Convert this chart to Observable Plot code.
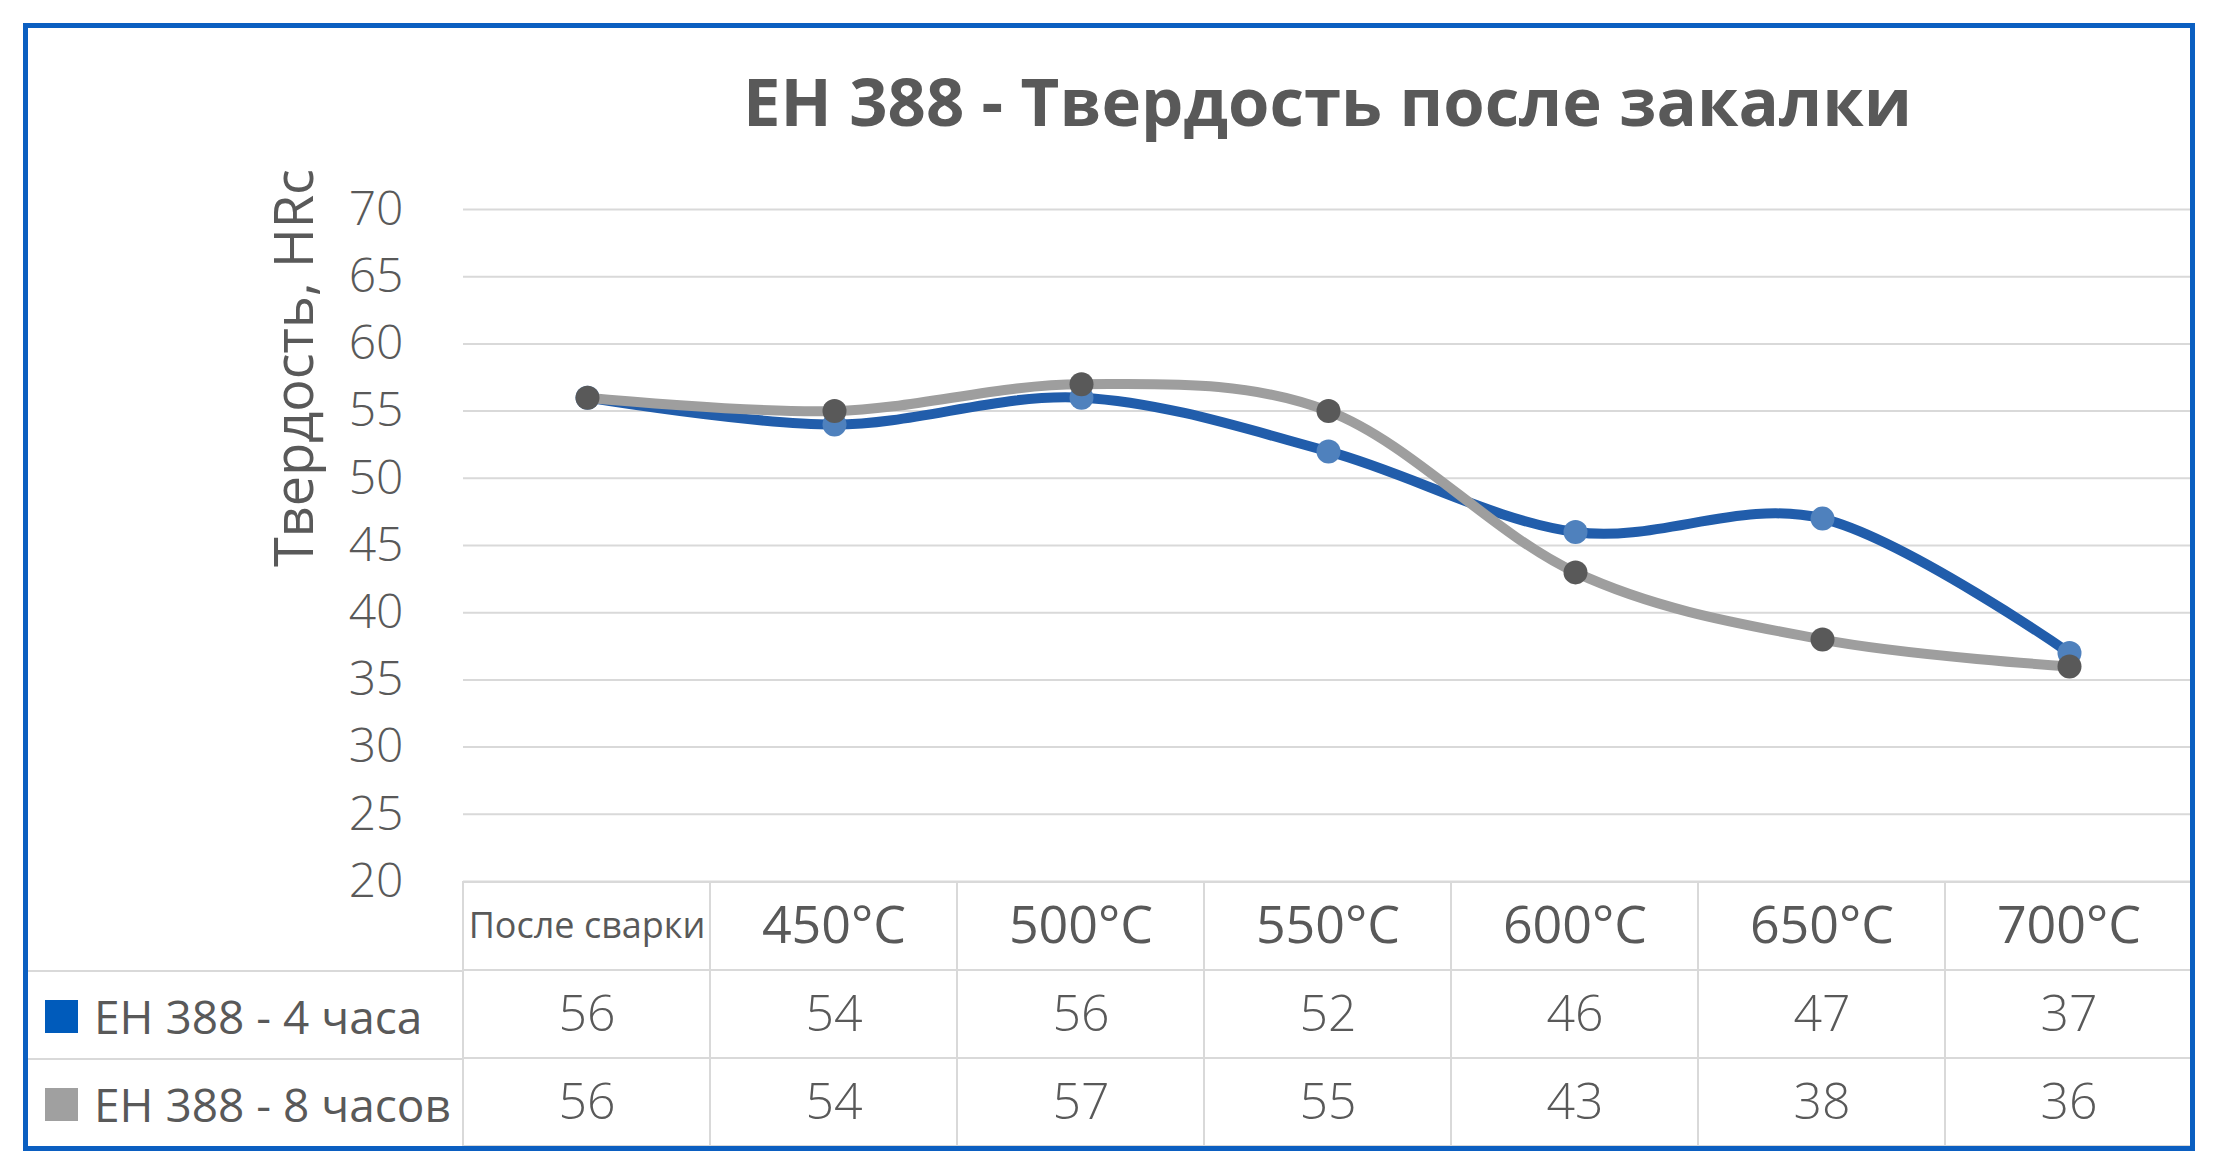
<!DOCTYPE html>
<html><head><meta charset="utf-8">
<script src="https://cdn.jsdelivr.net/npm/d3@7"></script>
<script src="https://cdn.jsdelivr.net/npm/@observablehq/plot@0.6"></script>
<style>
html,body{margin:0;padding:0;background:#fff;}
#wrap{position:relative;width:2218px;height:1174px;background:#fff;overflow:hidden;font-family:"Open Sans",sans-serif;color:#595959;}
#frame{position:absolute;left:23px;top:23px;width:2172px;height:1128px;box-sizing:border-box;border:5px solid #0B5FC1;pointer-events:none;z-index:5;}
#title{position:absolute;left:463px;width:1729px;top:67px;text-align:center;font-weight:700;font-size:67px;line-height:1;white-space:nowrap;}
#ylabel{position:absolute;left:292px;top:368px;transform:translate(-50%,-50%) rotate(-90deg);font-size:54px;line-height:1;white-space:nowrap;z-index:3;}
#chart{position:absolute;left:0;top:150px;}
#table{position:absolute;left:0;top:880px;}
#legend{position:absolute;left:25px;top:881px;width:438px;}
#legend .row{height:88.67px;box-sizing:border-box;position:relative;}
#legend .row.line{border-top:2px solid #d9d9d9;}
#legend .sw{position:absolute;left:20px;top:28px;width:33px;height:33px;}
#legend .lab{position:absolute;left:69px;top:0;line-height:88px;font-size:46px;white-space:nowrap;}
</style></head>
<body>
<div id="wrap">
  <div id="title"></div>
  <div id="chart"></div>
  <div id="ylabel"></div>
  <div id="table"></div>
  <div id="legend"></div>
  <div id="frame"></div>
</div>
<script>
const titleText = "EH 388 - Твердость после закалки";
const yLabel = "Твердость, HRc";
const categories = ["После сварки", "450°C", "500°C", "550°C", "600°C", "650°C", "700°C"];
const seriesNames = ["EH 388 - 4 часа", "EH 388 - 8 часов"];
const values4h = [56, 54, 56, 52, 46, 47, 37];
const values8h = [56, 55, 57, 55, 43, 38, 36];
const table4h = [56, 54, 56, 52, 46, 47, 37];
const table8h = [56, 54, 57, 55, 43, 38, 36];
const yTicks = [20, 25, 30, 35, 40, 45, 50, 55, 60, 65, 70];

const lineColors = ["#215DAB", "#9E9E9E"];
const dotColors = ["#4F81BD", "#595959"];
const swatchColors = ["#005BBB", "#A0A0A0"];

document.getElementById("title").textContent = titleText;
document.getElementById("ylabel").textContent = yLabel;

const s4 = categories.map((c, i) => ({cat: c, v: values4h[i]}));
const s8 = categories.map((c, i) => ({cat: c, v: values8h[i]}));

const chart = Plot.plot({
  width: 2218, height: 731,
  marginTop: 59, marginBottom: 0, marginLeft: 463, marginRight: 26,
  x: {type: "point", domain: categories, padding: 0.5, axis: null},
  y: {domain: [20, 70], axis: null},
  style: {fontFamily: "'Open Sans', sans-serif", color: "#595959", background: "transparent", overflow: "visible"},
  marks: [
    Plot.gridY(yTicks, {stroke: "#d9d9d9", strokeOpacity: 1, strokeWidth: 2}),
    Plot.axisY(yTicks, {tickSize: 0, tickPadding: 60, fontSize: 48, fontWeight: 300, fill: "#595959", label: null}),
    Plot.line(s4, {x: "cat", y: "v", stroke: lineColors[0], strokeWidth: 10, curve: "cardinal"}),
    Plot.dot(s4, {x: "cat", y: "v", r: 12, fill: dotColors[0], stroke: "none"}),
    Plot.line(s8, {x: "cat", y: "v", stroke: lineColors[1], strokeWidth: 10, curve: "cardinal"}),
    Plot.dot(s8, {x: "cat", y: "v", r: 12, fill: dotColors[1], stroke: "none"})
  ]
});
document.getElementById("chart").appendChild(chart);

const rows = ["head", seriesNames[0], seriesNames[1]];
const cells = rows.flatMap(r => categories.map(c => ({r, c})));
const t4 = categories.map((c, i) => ({c, r: seriesNames[0], v: table4h[i]}));
const t8 = categories.map((c, i) => ({c, r: seriesNames[1], v: table8h[i]}));

const table = Plot.plot({
  width: 2218, height: 267,
  marginTop: 1, marginBottom: 0, marginLeft: 463, marginRight: 26,
  x: {type: "band", domain: categories, padding: 0, axis: null},
  y: {type: "band", domain: rows, padding: 0, axis: null},
  style: {fontFamily: "'Open Sans', sans-serif", color: "#595959", background: "transparent", overflow: "visible"},
  marks: [
    Plot.cell(cells, {x: "c", y: "r", fill: "white", stroke: "#d9d9d9", strokeWidth: 2, inset: 0}),
    Plot.text(categories, {x: d => d, y: () => "head", text: d => d, fontSize: d => d === categories[0] ? 36 : 52, fill: "#595959"}),
    Plot.text(t4, {x: "c", y: "r", text: "v", fontSize: 50, fontWeight: 300, fill: "#595959"}),
    Plot.text(t8, {x: "c", y: "r", text: "v", fontSize: 50, fontWeight: 300, fill: "#595959"})
  ]
});
document.getElementById("table").appendChild(table);

const legend = d3.select("#legend");
legend.append("div").attr("class", "row");
seriesNames.forEach((name, i) => {
  const row = legend.append("div").attr("class", "row line");
  row.append("div").attr("class", "sw").style("background", swatchColors[i]);
  row.append("div").attr("class", "lab").text(name);
});
</script>
</body></html>
